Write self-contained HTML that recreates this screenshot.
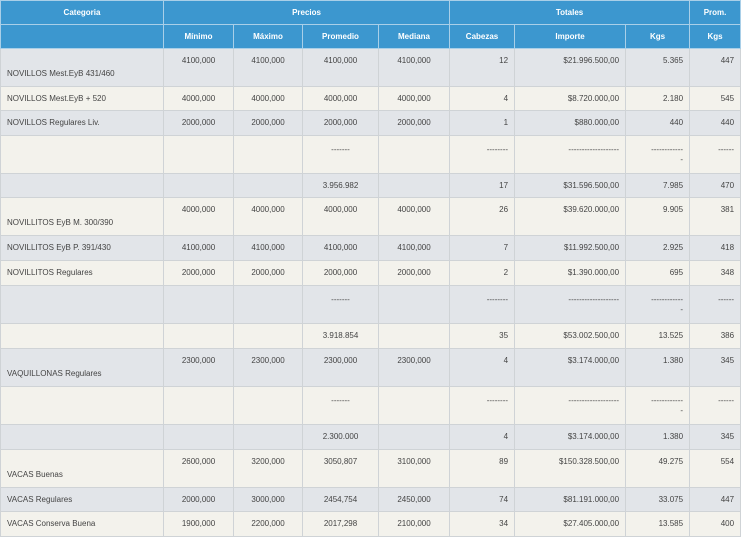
<!DOCTYPE html><html><head><style>
body{margin:0;background:#fff;width:741px;height:536px;overflow:hidden;font-family:"Liberation Sans",sans-serif;}
table{border-collapse:collapse;table-layout:fixed;width:740px;position:absolute;left:0;top:0}
td,th{border:1px solid #cfd3d6;font-size:8px;line-height:10px;color:#444;padding:0 6px;white-space:nowrap;overflow:hidden}
th{background:#3c97cf;color:#fff;font-weight:bold;border-color:#a9cfe8;height:23px;text-align:center}
tr.g td{background:#e2e5e9}tr.c td{background:#f3f2ec}
td.c{text-align:center}td.r{text-align:right}
tr.s td{height:23px;vertical-align:middle}
tr.s.x td{height:24px}
tr.t td{height:30px;vertical-align:top;padding-top:7px}
tr.t td.n{vertical-align:bottom;padding-bottom:7px;padding-top:0}
tr.d td{height:28px;vertical-align:top;padding-top:9px}
</style></head><body>
<table>
<colgroup><col style="width:163px"><col style="width:70px"><col style="width:69px"><col style="width:76px"><col style="width:71px"><col style="width:65px"><col style="width:111px"><col style="width:64px"><col style="width:51px"></colgroup>
<tr><th>Categoria</th><th colspan="4">Precios</th><th colspan="3">Totales</th><th>Prom.</th></tr>
<tr><th></th><th>Mínimo</th><th>Máximo</th><th>Promedio</th><th>Mediana</th><th>Cabezas</th><th>Importe</th><th>Kgs</th><th>Kgs</th></tr>
<tr class="g t"><td class="n">NOVILLOS Mest.EyB 431/460</td><td class="c">4100,000</td><td class="c">4100,000</td><td class="c">4100,000</td><td class="c">4100,000</td><td class="r">12</td><td class="r">$21.996.500,00</td><td class="r">5.365</td><td class="r">447</td></tr>
<tr class="c s"><td>NOVILLOS Mest.EyB + 520</td><td class="c">4000,000</td><td class="c">4000,000</td><td class="c">4000,000</td><td class="c">4000,000</td><td class="r">4</td><td class="r">$8.720.000,00</td><td class="r">2.180</td><td class="r">545</td></tr>
<tr class="g s x"><td>NOVILLOS Regulares Liv.</td><td class="c">2000,000</td><td class="c">2000,000</td><td class="c">2000,000</td><td class="c">2000,000</td><td class="r">1</td><td class="r">$880.000,00</td><td class="r">440</td><td class="r">440</td></tr>
<tr class="c d"><td></td><td></td><td></td><td class="c">-------</td><td></td><td class="r">--------</td><td class="r">-------------------</td><td class="r">------------<br>-</td><td class="r">------</td></tr>
<tr class="g s"><td></td><td></td><td></td><td class="c">3.956.982</td><td></td><td class="r">17</td><td class="r">$31.596.500,00</td><td class="r">7.985</td><td class="r">470</td></tr>
<tr class="c t"><td class="n">NOVILLITOS EyB M. 300/390</td><td class="c">4000,000</td><td class="c">4000,000</td><td class="c">4000,000</td><td class="c">4000,000</td><td class="r">26</td><td class="r">$39.620.000,00</td><td class="r">9.905</td><td class="r">381</td></tr>
<tr class="g s x"><td>NOVILLITOS EyB P. 391/430</td><td class="c">4100,000</td><td class="c">4100,000</td><td class="c">4100,000</td><td class="c">4100,000</td><td class="r">7</td><td class="r">$11.992.500,00</td><td class="r">2.925</td><td class="r">418</td></tr>
<tr class="c s x"><td>NOVILLITOS Regulares</td><td class="c">2000,000</td><td class="c">2000,000</td><td class="c">2000,000</td><td class="c">2000,000</td><td class="r">2</td><td class="r">$1.390.000,00</td><td class="r">695</td><td class="r">348</td></tr>
<tr class="g d"><td></td><td></td><td></td><td class="c">-------</td><td></td><td class="r">--------</td><td class="r">-------------------</td><td class="r">------------<br>-</td><td class="r">------</td></tr>
<tr class="c s x"><td></td><td></td><td></td><td class="c">3.918.854</td><td></td><td class="r">35</td><td class="r">$53.002.500,00</td><td class="r">13.525</td><td class="r">386</td></tr>
<tr class="g t"><td class="n">VAQUILLONAS Regulares</td><td class="c">2300,000</td><td class="c">2300,000</td><td class="c">2300,000</td><td class="c">2300,000</td><td class="r">4</td><td class="r">$3.174.000,00</td><td class="r">1.380</td><td class="r">345</td></tr>
<tr class="c d"><td></td><td></td><td></td><td class="c">-------</td><td></td><td class="r">--------</td><td class="r">-------------------</td><td class="r">------------<br>-</td><td class="r">------</td></tr>
<tr class="g s x"><td></td><td></td><td></td><td class="c">2.300.000</td><td></td><td class="r">4</td><td class="r">$3.174.000,00</td><td class="r">1.380</td><td class="r">345</td></tr>
<tr class="c t"><td class="n">VACAS Buenas</td><td class="c">2600,000</td><td class="c">3200,000</td><td class="c">3050,807</td><td class="c">3100,000</td><td class="r">89</td><td class="r">$150.328.500,00</td><td class="r">49.275</td><td class="r">554</td></tr>
<tr class="g s"><td>VACAS Regulares</td><td class="c">2000,000</td><td class="c">3000,000</td><td class="c">2454,754</td><td class="c">2450,000</td><td class="r">74</td><td class="r">$81.191.000,00</td><td class="r">33.075</td><td class="r">447</td></tr>
<tr class="c s x"><td>VACAS Conserva Buena</td><td class="c">1900,000</td><td class="c">2200,000</td><td class="c">2017,298</td><td class="c">2100,000</td><td class="r">34</td><td class="r">$27.405.000,00</td><td class="r">13.585</td><td class="r">400</td></tr>
</table>
</body></html>
